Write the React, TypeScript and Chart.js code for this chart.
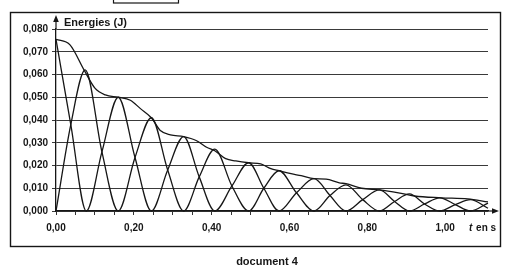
import React, { useEffect, useRef } from "react";
import { Chart, registerables } from "chart.js";

Chart.register(...registerables);

// Curve 1 (starts at maximum)
const curveATimes = [0, 0.038, 0.078, 0.118, 0.160, 0.203, 0.245, 0.287, 0.328, 0.368, 0.408, 0.452, 0.495, 0.534, 0.573, 0.618, 0.663, 0.704, 0.745, 0.788, 0.831, 0.870, 0.908, 0.947, 0.986, 1.026, 1.065, 1.11];
const curveAValues = [0.0755, 0.038, 0, 0.026, 0.050, 0.0235, 0, 0.018, 0.0327, 0.015, 0, 0.011, 0.0212, 0.010, 0, 0.008, 0.0142, 0.0068, 0, 0.005, 0.0093, 0.0042, 0, 0.0031, 0.0058, 0.0028, 0, 0.0035];

// Curve 2 (starts at zero)
const curveBTimes = [0, 0.038, 0.075, 0.118, 0.160, 0.203, 0.245, 0.287, 0.328, 0.368, 0.408, 0.452, 0.495, 0.534, 0.573, 0.618, 0.663, 0.704, 0.745, 0.788, 0.831, 0.870, 0.908, 0.947, 0.986, 1.026, 1.065, 1.11];
const curveBValues = [0, 0.038, 0.062, 0.026, 0, 0.0235, 0.041, 0.018, 0, 0.015, 0.0272, 0.011, 0, 0.010, 0.0177, 0.008, 0, 0.0068, 0.0115, 0.005, 0, 0.0042, 0.0075, 0.0031, 0, 0.0028, 0.0050, 0.0012];

// Total energy envelope
const envTimes = [0, 0.036, 0.072, 0.10, 0.127, 0.160, 0.191, 0.217, 0.245, 0.268, 0.294, 0.328, 0.36, 0.387, 0.408, 0.436, 0.462, 0.495, 0.526, 0.552, 0.573, 0.604, 0.630, 0.663, 0.694, 0.728, 0.745, 0.785, 0.831, 0.880, 0.921, 0.990, 1.058, 1.11];
const envValues = [0.0755, 0.073, 0.062, 0.054, 0.051, 0.050, 0.0487, 0.045, 0.041, 0.0354, 0.0335, 0.0327, 0.031, 0.028, 0.0265, 0.023, 0.022, 0.0212, 0.0207, 0.0186, 0.0177, 0.0164, 0.0155, 0.0142, 0.014, 0.0124, 0.012, 0.010, 0.0093, 0.008, 0.0066, 0.0058, 0.0053, 0.0040];

const xTickValues = [0, 0.05, 0.1, 0.15, 0.2, 0.25, 0.3, 0.35, 0.4, 0.45, 0.5, 0.55, 0.6, 0.65, 0.7, 0.75, 0.8, 0.85, 0.9, 0.95, 1.0, 1.05, 1.1];
const xLabelStep = 0.2;
const yMax = 0.08;
const yStep = 0.01;
const xMax = 1.11;

const yTitle = "Energies (J)";
const xTitleItalic = "t";
const xTitleRest = " en s";
const caption = "document 4";

const FONT = "'Liberation Sans', Arial, sans-serif";
const INK = "#161616";

function toPoints(xs: number[], ys: number[]) {
  return xs.map((x, i) => ({ x, y: ys[i] }));
}

const decorPlugin = {
  id: "decor",
  afterDraw(chart: any) {
    const ctx = chart.ctx;
    const area = chart.chartArea;
    ctx.save();
    ctx.strokeStyle = INK;
    ctx.fillStyle = INK;
    // outer frame
    ctx.lineWidth = 1.4;
    ctx.strokeRect(10.5, 12.5, 490, 234);
    // small box at top
    ctx.lineWidth = 1.2;
    ctx.strokeRect(113.5, -2, 65, 5);
    // y axis arrow
    ctx.lineWidth = 1.2;
    ctx.beginPath();
    ctx.moveTo(area.left, area.top);
    ctx.lineTo(area.left, 20);
    ctx.stroke();
    ctx.beginPath();
    ctx.moveTo(area.left, 15);
    ctx.lineTo(area.left - 2.8, 22);
    ctx.lineTo(area.left + 2.8, 22);
    ctx.closePath();
    ctx.fill();
    // x axis arrow
    ctx.beginPath();
    ctx.moveTo(area.right, area.bottom);
    ctx.lineTo(494, area.bottom);
    ctx.stroke();
    ctx.beginPath();
    ctx.moveTo(499, area.bottom);
    ctx.lineTo(492, area.bottom - 2.8);
    ctx.lineTo(492, area.bottom + 2.8);
    ctx.closePath();
    ctx.fill();
    // titles
    ctx.textBaseline = "alphabetic";
    ctx.textAlign = "left";
    ctx.font = `bold 11px ${FONT}`;
    ctx.fillText(yTitle, 64, 26);
    ctx.font = `italic bold 10px ${FONT}`;
    ctx.fillText(xTitleItalic, 469, 231);
    const w = ctx.measureText(xTitleItalic).width;
    ctx.font = `bold 10px ${FONT}`;
    ctx.fillText(xTitleRest, 469 + w + 1, 231);
    ctx.font = `bold 11px ${FONT}`;
    ctx.textAlign = "center";
    ctx.fillText(caption, 267, 265);
    ctx.restore();
  },
};

export default function App() {
  const ref = useRef<HTMLCanvasElement | null>(null);

  useEffect(() => {
    if (!ref.current) return;
    const lineStyle = {
      borderColor: INK,
      borderWidth: 1.3,
      pointRadius: 0,
      fill: false,
      cubicInterpolationMode: "monotone" as const,
      clip: 4,
    };
    const chart = new Chart(ref.current, {
      type: "line",
      data: {
        datasets: [
          { ...lineStyle, label: "A", data: toPoints(curveATimes, curveAValues) },
          { ...lineStyle, label: "B", data: toPoints(curveBTimes, curveBValues) },
          { ...lineStyle, label: "Total", data: toPoints(envTimes, envValues) },
        ],
      },
      options: {
        responsive: false,
        animation: false,
        events: [],
        layout: { padding: { top: 29, right: 18, bottom: 0, left: 0 } },
        plugins: { legend: { display: false }, tooltip: { enabled: false } },
        scales: {
          x: {
            type: "linear",
            min: 0,
            max: xMax,
            afterBuildTicks: (s: any) => {
              s.ticks = xTickValues.map((v) => ({ value: v }));
            },
            afterFit: (s: any) => {
              s.height = 57;
            },
            ticks: {
              autoSkip: false,
              maxRotation: 0,
              padding: 7,
              color: INK,
              font: { family: FONT, size: 10, weight: "bold" },
              callback: (v: any) => {
                const r = Number(v) / xLabelStep;
                return Math.abs(r - Math.round(r)) < 1e-6 ? Number(v).toFixed(2).replace(".", ",") : "";
              },
            },
            grid: { drawOnChartArea: false, drawTicks: true, tickLength: 4, color: "#333", lineWidth: 1 },
            border: { display: true, color: INK, width: 1.3 },
          },
          y: {
            min: 0,
            max: yMax,
            afterFit: (s: any) => {
              s.width = 56;
            },
            ticks: {
              stepSize: yStep,
              padding: 4,
              color: INK,
              font: { family: FONT, size: 10, weight: "bold" },
              callback: (v: any) => Number(v).toFixed(3).replace(".", ","),
            },
            grid: { color: "#3a3a3a", lineWidth: 1, tickLength: 4, drawTicks: true },
            border: { display: true, color: INK, width: 1.3 },
          },
        },
      },
      plugins: [decorPlugin],
    });
    return () => chart.destroy();
  }, []);

  return (
    <div style={{ position: "fixed", left: 0, top: 0, width: 506, height: 268, background: "#fff" }}>
      <canvas ref={ref} width={506} height={268} style={{ display: "block", width: 506, height: 268 }} />
    </div>
  );
}
